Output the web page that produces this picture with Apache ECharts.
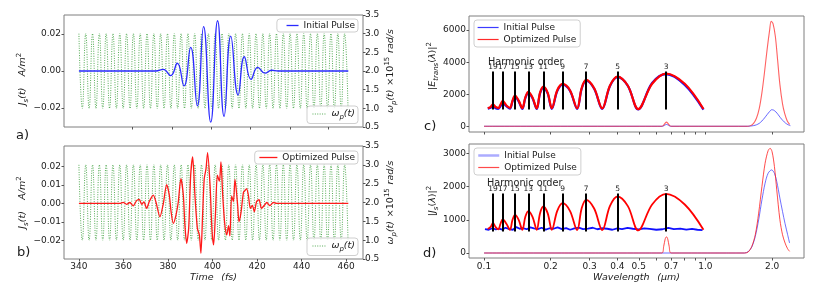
<!DOCTYPE html>
<html><head><meta charset="utf-8">
<script src="https://cdn.jsdelivr.net/npm/echarts@6/dist/echarts.min.js"></script>
<style>html,body{margin:0;padding:0;background:#fff}#c{width:830px;height:296px}</style>
</head><body><div id="c"></div>
<script>
// ================= DATA =================
const timeTicks = [340, 360, 380, 400, 420, 440, 460];
const timeTicksA = [364.1, 381.8, 399.4, 416.9, 434.8, 452.2];
const jsTicksA = [-0.02, 0, 0.02];
const jsTicksB = [-0.02, -0.01, 0, 0.01, 0.02];
const omegaTicks = [0.5, 1.0, 1.5, 2.0, 2.5, 3.0, 3.5];

// plasma frequency omega_p(t) (x1e15 rad/s): extrema
const omegaP = [[340.00,3],[341.53,1],[343.06,3],[344.59,1],[346.12,3],[347.65,1],[349.18,3],[350.71,1],[352.24,3],[353.77,1],
[355.30,3],[356.83,1],[358.36,3],[359.89,1],[361.42,3],[362.95,1],[364.48,3],[366.01,1],[367.54,3],[369.07,1],
[370.60,3],[372.13,1],[373.66,3],[375.19,1],[376.72,3],[378.25,1],[379.78,3],[381.31,1],[382.84,3],[384.37,1],
[385.90,3],[387.43,1],[388.96,3],[390.49,1],[392.02,3],[393.55,1],[395.08,3],[396.61,1],[398.14,3],[399.67,1],
[401.20,3],[402.73,1],[404.26,3],[405.79,1],[407.32,3],[408.85,1],[410.38,3],[411.91,1],[413.44,3],[414.97,1],
[416.50,3],[418.03,1],[419.56,3],[421.09,1],[422.62,3],[424.15,1],[425.68,3],[427.21,1],[428.74,3],[430.27,1],
[431.80,3],[433.33,1],[434.86,3],[436.39,1],[437.92,3],[439.45,1],[440.98,3],[442.51,1],[444.04,3],[445.57,1],
[447.10,3],[448.63,1],[450.16,3],[451.69,1],[453.22,3],[454.75,1],[456.28,3],[457.81,1],[459.34,3],[460.87,1]];

// J_s(t) initial pulse (A/m^2)
const initialPulse = [[340,0],[374.5,0],[377.9,0.0009],[381.2,-0.0025],[384.2,0.0042],[387.2,-0.0081],[390.2,0.0128],
[393.2,-0.0189],[396.0,0.0240],[399.2,-0.0277],[402.3,0.0272],[405.2,-0.0245],[408.2,0.0189],[411.5,-0.0130],
[414.3,0.0077],[417.3,-0.0045],[420.3,0.0020],[423.6,-0.0012],[426.6,0.0004],[429.5,0],[461,0]];

// J_s(t) optimized pulse (A/m^2)
const optimizedPulse = [[340,0],[358.4,0],[359.9,0.0006],[361.4,-0.0005],[362.9,0.0005],[364.4,-0.0013],[365.9,0.0015],
[367.1,0.0022],[368.2,-0.0005],[369.2,0.0008],[370.4,-0.0027],[371.6,0.0010],[373.4,0.0045],[374.6,0.0008],
[376.4,-0.0072],[377.9,-0.0002],[379.4,0.0102],[380.6,0.0045],[381.4,-0.0045],[382.4,-0.0108],[383.6,-0.0063],
[384.6,0.0005],[385.8,0.0134],[386.9,0.0045],[387.6,-0.0117],[388.4,-0.0215],[389.3,-0.0134],[390.2,0.0152],
[391.1,0.0251],[392.1,0.0045],[393.2,-0.0134],[394.1,-0.0170],[394.8,-0.0269],[395.6,-0.0045],[396.3,0.0134],
[397.1,0.0188],[397.8,0.0274],[398.9,0.0099],[399.8,-0.0152],[400.5,-0.0224],[401.3,-0.0063],[402.2,0.0152],
[403.1,0.0120],[403.8,0.0224],[404.6,0.0040],[405.5,-0.0110],[406.4,-0.0170],[407.2,-0.0120],[407.8,-0.0175],
[408.6,0.0040],[409.4,0.0010],[410.1,0.0130],[411.3,-0.0010],[411.9,-0.0098],[412.8,-0.0050],[413.9,0.0060],
[414.6,0.0070],[415.3,0.0080],[416.1,0.0045],[417.0,-0.0027],[417.9,-0.0010],[418.8,-0.0045],[419.8,0.0010],
[420.9,0.0020],[422.0,-0.0027],[423.3,-0.0010],[424.4,0.0005],[425.8,-0.0012],[427.3,0.0005],[428.8,0],[461,0]];

// wavelength axis (um)
const wlTicks = [0.1,0.2,0.3,0.4,0.5,0.6,0.7,0.8,0.9,1.0,2.0];
const wlLabels = [0.1,0.2,0.3,0.4,0.5,0.7,1.0,2.0];
const specTicksC = [0, 2000, 4000, 6000];
const specTicksD = [0, 1000, 2000, 3000];

// harmonic markers
const harmonicOrders = [19, 17, 15, 13, 11, 9, 7, 5, 3];
const harmonicLambda = [0.1098, 0.1215, 0.138, 0.1585, 0.1854, 0.2266, 0.289, 0.401, 0.664];
const harmLineC = [1050, 3420];
const harmLineD = [650, 1790];

// harmonic spectra (inset-like curves)
const harmX = [0.104,0.1069,0.1098,0.1129,0.116,0.1187,0.1215,0.1262,0.131,0.1345,0.138,0.1434,0.149,0.1537,0.1585,0.1656,
0.173,0.1791,0.1854,0.1938,0.2025,0.2142,0.2266,0.2444,0.2635,0.276,0.289,0.3144,0.342,0.3703,0.401,0.4464,0.497,0.5745,0.664,0.8067,0.98];
const harmCRed = [1130,1200,1360,1200,1140,1350,1590,1300,1150,1600,1920,1600,1130,1800,2150,1800,1120,2100,2470,2100,
1130,2250,2640,2250,1110,2370,2890,2370,1110,2530,3100,2530,1070,2650,3290,2650,1080];
const harmCBlue = [1100,1150,1250,1120,1090,1250,1450,1250,1100,1550,1850,1550,1080,1750,2080,1750,1080,2050,2400,2050,
1090,2200,2600,2220,1080,2330,2850,2350,1080,2500,3060,2520,1050,2700,3250,2580,1040];
const harmDRed = [720,780,900,780,710,880,1020,880,700,1000,1150,1000,700,1090,1260,1090,700,1200,1400,1200,
700,1270,1500,1270,690,1340,1600,1340,690,1410,1700,1410,680,1460,1780,1460,700];
const noiseX = [0.101,0.105,0.109,0.113,0.117,0.121,0.125,0.13,0.135,0.14,0.145,0.15,0.156,0.162,0.168,0.175,0.182,0.19,
0.198,0.206,0.215,0.225,0.235,0.245,0.256,0.268,0.28,0.295,0.31,0.325,0.34,0.36,0.38,0.40,0.42,0.445,0.47,0.5,0.53,0.56,
0.6,0.64,0.68,0.72,0.77,0.82,0.87,0.92,0.97];
const harmDBlue = [720,700,745,710,735,705,760,720,700,780,730,750,715,770,740,720,760,705,745,730,770,720,750,700,740,
765,720,735,760,715,745,730,700,740,720,755,730,710,740,725,700,715,760,720,735,705,725,700,690];

// main spectra
const specCInitial = [[0.1,0],[0.64,0],[0.655,70],[0.667,110],[0.68,70],[0.695,0],[1.55,0],[1.6,15],[1.65,40],[1.7,90],
[1.75,180],[1.8,330],[1.85,520],[1.9,730],[1.95,920],[1.99,1030],[2.03,1010],[2.08,900],[2.13,730],[2.18,540],[2.24,350],
[2.3,200],[2.36,100],[2.42,40]];
const specCOptimized = [[0.1,0],[0.63,0],[0.645,40],[0.656,170],[0.667,260],[0.678,170],[0.69,40],[0.705,0],[1.55,0],
[1.6,40],[1.65,180],[1.7,500],[1.75,1100],[1.8,2100],[1.85,3400],[1.9,4800],[1.95,6000],[1.98,6550],[2.02,6400],
[2.07,5600],[2.12,4100],[2.17,2600],[2.23,1400],[2.28,800],[2.34,350],[2.4,120]];
const specDInitial = [[0.1,0],[1.5,0],[1.56,40],[1.62,180],[1.68,500],[1.74,1000],[1.8,1600],[1.86,2100],[1.92,2400],
[1.99,2500],[2.05,2400],[2.1,2150],[2.17,1650],[2.23,1250],[2.29,880],[2.35,560],[2.4,300]];
const specDOptimized = [[0.1,0],[0.635,0],[0.648,200],[0.658,420],[0.667,490],[0.676,420],[0.686,200],[0.7,0],[1.5,0],
[1.56,30],[1.62,200],[1.68,550],[1.74,1200],[1.8,2000],[1.86,2700],[1.92,3080],[1.96,3150],[2.0,3050],[2.05,2600],
[2.1,1900],[2.17,1000],[2.23,550],[2.29,300],[2.35,130],[2.4,50]];

// ================= CHART =================
const FONT = 'DejaVu Sans';
const TXT = '#1a1a1a';
const lg = Math.log10;
const toLog = arr => arr.map(p => [lg(p[0]), p[1]]);
const zipLog = (xs, ys) => xs.map((x, i) => [lg(x), ys[i]]);
const RICH = {
  i: {fontFamily: FONT, fontStyle: 'italic', fontSize: 9.5, lineHeight: 14, color: TXT},
  n: {fontFamily: FONT, fontSize: 9.5, lineHeight: 14, color: TXT},
  sub: {fontFamily: FONT, fontStyle: 'italic', fontSize: 7, lineHeight: 14, verticalAlign: 'bottom', color: TXT},
  sup: {fontFamily: FONT, fontSize: 7, lineHeight: 14, verticalAlign: 'top', color: TXT}
};
const jsFmt = v => (v < -1e-9 ? '\u2212' : '') + Math.abs(v).toFixed(2);
const noLine = {show: false, onZero: false};

function timeAxis(grid, ticks, labels, showLabels) {
  return {
    type: 'value', gridIndex: grid, min: 333.3, max: 467.6, position: 'bottom',
    splitLine: {show: false}, axisLine: noLine,
    axisTick: {show: true, length: 2.5, customValues: ticks, lineStyle: {color: '#555'}},
    axisLabel: {show: showLabels, customValues: labels, margin: 3, fontFamily: FONT, fontSize: 9, color: TXT}
  };
}
function wlAxis(grid, showLabels) {
  return {
    type: 'value', gridIndex: grid, min: -1.0678, max: 0.4453, position: 'bottom',
    splitLine: {show: false}, axisLine: noLine,
    axisTick: {show: true, length: 2.5, customValues: wlTicks.map(lg), lineStyle: {color: '#555'}},
    axisLabel: {show: showLabels, customValues: wlLabels.map(lg), margin: 4, fontFamily: FONT, fontSize: 9, color: TXT,
      formatter: v => Math.pow(10, v).toFixed(1)}
  };
}
function leftAxis(grid, min, max, ticks, fmt, name, gap, pad) {
  return {
    type: 'value', gridIndex: grid, position: 'left', min: min, max: max,
    splitLine: {show: false}, axisLine: noLine,
    axisTick: {show: true, length: 2.5, customValues: ticks, lineStyle: {color: '#555'}},
    axisLabel: {customValues: ticks, margin: 3, fontFamily: FONT, fontSize: 9, color: TXT, formatter: fmt},
    name: name, nameLocation: 'middle', nameGap: gap, nameRotate: 90,
    nameTextStyle: {rich: RICH, padding: pad}
  };
}
function rightAxis(grid) {
  return {
    type: 'value', gridIndex: grid, position: 'right', min: 0.5, max: 3.5, interval: 0.5,
    splitLine: {show: false}, axisLine: noLine,
    axisTick: {show: true, length: 2.5, lineStyle: {color: '#555'}},
    axisLabel: {margin: 2, fontFamily: FONT, fontSize: 9, color: TXT, formatter: v => v.toFixed(1)},
    name: '{i|\u03c9}{sub|p}{i|(t)} {n|\u00d710}{sup|15} {i|rad/s}', nameLocation: 'middle', nameGap: 17, nameRotate: 90,
    nameTextStyle: {rich: RICH}
  };
}
const line = (o) => Object.assign({type: 'line', symbol: 'none', showSymbol: false, silent: true, animation: false}, o);
function harmMark(range) {
  return {
    silent: true, symbol: ['none', 'none'], animation: false,
    lineStyle: {color: '#000', width: 2, type: 'solid'},
    label: {show: true, position: 'end', distance: 0, formatter: p => p.name, fontFamily: FONT, fontSize: 7.5, color: '#222'},
    data: harmonicLambda.map((l, i) => [{coord: [lg(l), range[0]], name: String(harmonicOrders[i])}, {coord: [lg(l), range[1]]}])
  };
}
const greenStyle = {color: 'rgba(20,140,20,0.8)', width: 0.9, type: [1, 1.4]};
const legendBase = {
  orient: 'vertical', backgroundColor: 'rgba(255,255,255,0.85)', borderColor: '#cfcfcf', borderWidth: 1, borderRadius: 3,
  itemHeight: 10, itemGap: 3, itemStyle: {opacity: 0}, lineStyle: {width: 'inherit'},
  textStyle: {fontFamily: FONT, fontSize: 9, color: TXT, rich: {
    i: {fontFamily: FONT, fontStyle: 'italic', fontSize: 9.5, color: TXT},
    s: {fontFamily: FONT, fontStyle: 'italic', fontSize: 7, color: TXT, verticalAlign: 'bottom', lineHeight: 13}}},
  formatter: n => n === '\u03c9_p(t)' ? '{i|\u03c9}{s|p}{i|(t)}' : n,
  selectedMode: false
};
const L = o => Object.assign({}, legendBase, o);

const option = {
  animation: false,
  backgroundColor: '#fff',
  textStyle: {fontFamily: FONT},
  grid: [
    {left: 64, top: 15, width: 299, height: 112, show: true, borderColor: '#7f7f7f', borderWidth: 1, backgroundColor: 'transparent'},
    {left: 64, top: 146, width: 299, height: 113, show: true, borderColor: '#7f7f7f', borderWidth: 1, backgroundColor: 'transparent'},
    {left: 469, top: 16, width: 335, height: 116, show: true, borderColor: '#7f7f7f', borderWidth: 1, backgroundColor: 'transparent'},
    {left: 469, top: 144, width: 335, height: 114, show: true, borderColor: '#7f7f7f', borderWidth: 1, backgroundColor: 'transparent'}
  ],
  xAxis: [
    timeAxis(0, timeTicksA, timeTicks, false),
    Object.assign(timeAxis(1, timeTicks, timeTicks, true), {
      name: '{i|Time}  {i|(fs)}', nameLocation: 'middle', nameGap: 12, nameTextStyle: {rich: RICH}}),
    wlAxis(2, false),
    Object.assign(wlAxis(3, true), {
      name: '{i|Wavelength}  {i|(\u03bcm)}', nameLocation: 'middle', nameGap: 13, nameTextStyle: {rich: RICH}})
  ],
  yAxis: [
    leftAxis(0, -0.0303, 0.0303, jsTicksA, jsFmt, '{i|J}{sub|s}{i|(t)}   {i|A/m}{sup|2}', 29, [0, 16, 0, 0]),
    rightAxis(0),
    leftAxis(1, -0.0300, 0.0310, jsTicksB, jsFmt, '{i|J}{sub|s}{i|(t)}   {i|A/m}{sup|2}', 29, [0, 0, 0, 0]),
    rightAxis(1),
    leftAxis(2, -358, 6880, specTicksC, v => String(v), '{n||}{i|E}{sub|trans}{n|(}{i|\u03bb}{n|)|}{sup|2}', 27, [0, 0, 0, 16]),
    leftAxis(3, -150, 3280, specTicksD, v => String(v), '{n||}{i|J}{sub|s}{n|(}{i|\u03bb}{n|)|}{sup|2}', 27, [0, 0, 0, 0])
  ],
  legend: [
    L({data: [{name: 'Initial Pulse', lineStyle: {width: 1.3, color: '#2a2aff'}}], right: 472, top: 19, padding: [2, 3, 2, 9], itemWidth: 12}),
    L({data: ['\u03c9_p(t)'], right: 472, top: 106, padding: [3, 3, 3, 5], itemWidth: 14}),
    L({data: [{name: 'Optimized Pulse', lineStyle: {width: 1.3, color: '#ff1a1a'}}], right: 472, top: 151, padding: [2, 3, 2, 4], itemWidth: 18}),
    L({data: ['\u03c9_p(t)'], right: 472, top: 238, padding: [3, 3, 3, 5], itemWidth: 14}),
    L({data: [{name: 'Initial Pulse', lineStyle: {width: 1.2, color: '#3b3bff'}}, {name: 'Optimized Pulse', lineStyle: {width: 1.2, color: '#ff2a2a'}}],
      left: 474, top: 20, padding: [3, 4, 3, 3], itemWidth: 21}),
    L({data: [{name: 'Initial Pulse', lineStyle: {width: 2.5, color: 'rgba(90,90,255,0.5)'}}, {name: 'Optimized Pulse', lineStyle: {width: 1.2, color: '#ff4a4a'}}],
      left: 474, top: 148, padding: [3, 4, 3, 3], itemWidth: 21})
  ],
  graphic: [
    {type: 'text', left: 16, top: 129, style: {text: 'a)', font: '13px "DejaVu Sans"', fill: TXT}},
    {type: 'text', left: 17, top: 246, style: {text: 'b)', font: '13px "DejaVu Sans"', fill: TXT}},
    {type: 'text', left: 424, top: 120, style: {text: 'c)', font: '13px "DejaVu Sans"', fill: TXT}},
    {type: 'text', left: 423, top: 247, style: {text: 'd)', font: '13px "DejaVu Sans"', fill: TXT}},
    {type: 'text', left: 488, top: 57, style: {text: 'Harmonic order', font: '9.7px "DejaVu Sans"', fill: '#222'}},
    {type: 'text', left: 487, top: 178, style: {text: 'Harmonic order', font: '9.7px "DejaVu Sans"', fill: '#222'}}
  ],
  series: [
    line({name: '\u03c9_p(t)', xAxisIndex: 0, yAxisIndex: 1, data: omegaP, smooth: 0.5, lineStyle: greenStyle, itemStyle: {color: 'rgba(20,140,20,0.8)'}, z: 1}),
    line({name: 'Initial Pulse', xAxisIndex: 0, yAxisIndex: 0, data: initialPulse, smooth: 0.5, lineStyle: {color: '#2a2aff', width: 1.3}, itemStyle: {color: '#2a2aff'}, z: 3}),
    line({name: '\u03c9_p(t)', xAxisIndex: 1, yAxisIndex: 3, data: omegaP, smooth: 0.5, lineStyle: greenStyle, itemStyle: {color: 'rgba(20,140,20,0.8)'}, z: 1}),
    line({name: 'Optimized Pulse', xAxisIndex: 1, yAxisIndex: 2, data: optimizedPulse, smooth: 0.25, lineStyle: {color: '#ff1a1a', width: 1.3}, itemStyle: {color: '#ff1a1a'}, z: 3}),
    line({name: 'Initial Pulse', xAxisIndex: 2, yAxisIndex: 4, data: toLog(specCInitial), smooth: 0.3, lineStyle: {color: 'rgba(50,50,255,0.75)', width: 1}, itemStyle: {color: '#4a4aff'}}),
    line({name: 'Optimized Pulse', xAxisIndex: 2, yAxisIndex: 4, data: toLog(specCOptimized), smooth: 0.3, lineStyle: {color: 'rgba(255,30,30,0.7)', width: 1.1}, itemStyle: {color: '#ff4040'}}),
    line({name: 'harmC_initial', xAxisIndex: 2, yAxisIndex: 4, data: zipLog(harmX, harmCBlue), smooth: 0.35, lineStyle: {color: '#1010ff', width: 2.2}}),
    line({name: 'harmC_optimized', xAxisIndex: 2, yAxisIndex: 4, data: zipLog(harmX, harmCRed), smooth: 0.35, lineStyle: {color: '#ff0000', width: 2.2}, markLine: harmMark(harmLineC)}),
    line({name: 'Initial Pulse', xAxisIndex: 3, yAxisIndex: 5, data: toLog(specDInitial), smooth: 0.3, lineStyle: {color: 'rgba(50,50,255,0.7)', width: 1}, itemStyle: {color: '#4a4aff'}}),
    line({name: 'Optimized Pulse', xAxisIndex: 3, yAxisIndex: 5, data: toLog(specDOptimized), smooth: 0.3, lineStyle: {color: 'rgba(255,30,30,0.8)', width: 1}, itemStyle: {color: '#ff4040'}}),
    line({name: 'harmD_initial', xAxisIndex: 3, yAxisIndex: 5, data: zipLog(noiseX, harmDBlue), lineStyle: {color: '#1010ff', width: 1.8}}),
    line({name: 'harmD_optimized', xAxisIndex: 3, yAxisIndex: 5, data: zipLog(harmX, harmDRed), smooth: 0.35, lineStyle: {color: '#ff0000', width: 1.8}, markLine: harmMark(harmLineD)})
  ]
};
const chart = echarts.init(document.getElementById('c'), null, {renderer: 'canvas'});
chart.setOption(option);
</script>
</body></html>
